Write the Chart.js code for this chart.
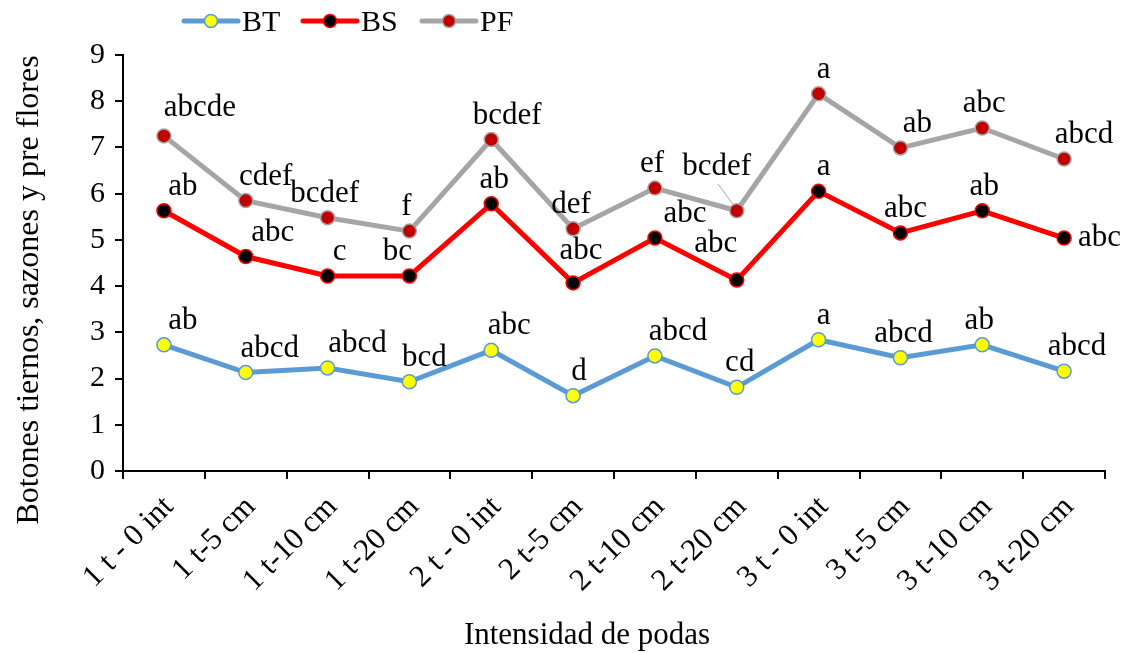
<!DOCTYPE html>
<html>
<head>
<meta charset="utf-8">
<script src="https://cdn.jsdelivr.net/npm/chart.js@4/dist/chart.umd.min.js"></script>
<style>
  html, body { margin: 0; padding: 0; background: #fff; }
  #wrap { width: 1126px; height: 653px; position: relative; }
</style>
</head>
<body>
<div id="wrap"><canvas id="podasChart" width="1126" height="653"></canvas></div>
<script>
// categories and values
const categories = ['1 t - 0 int', '1 t-5 cm', '1 t-10 cm', '1 t-20 cm', '2 t - 0 int', '2 t-5 cm',
    '2 t-10 cm', '2 t-20 cm', '3 t - 0 int', '3 t-5 cm', '3 t-10 cm', '3 t-20 cm'];
const btValues = [2.73, 2.13, 2.23, 1.93, 2.61, 1.63, 2.49, 1.81, 2.84, 2.45, 2.73, 2.16];
const bsValues = [5.63, 4.64, 4.22, 4.22, 5.78, 4.07, 5.04, 4.13, 6.05, 5.15, 5.63, 5.04];
const pfValues = [7.25, 5.85, 5.48, 5.19, 7.17, 5.24, 6.12, 5.63, 8.16, 6.99, 7.42, 6.75];
// significance letters
const btLetters = ['ab', 'abcd', 'abcd', 'bcd', 'abc', 'd', 'abcd', 'cd', 'a', 'abcd', 'ab', 'abcd'];
const bsLetters = ['ab', 'abc', 'c', 'bc', 'ab', 'abc', 'abc', 'abc', 'a', 'abc', 'ab', 'abc'];
const pfLetters = ['abcde', 'cdef', 'bcdef', 'f', 'bcdef', 'def', 'ef', 'bcdef', 'a', 'ab', 'abc', 'abcd'];
const yTicks = [0, 1, 2, 3, 4, 5, 6, 7, 8, 9];

const serif = '"Liberation Serif", "Times New Roman", serif';

// label nudges (px) so the letters sit where they were placed in the original
const labelNudge = [
    { dx: [19, 24, 30, 15, 18, 6, 23, 3, 5, 3, -3, 13], dy: {} },
    { dx: [19, 27, 12, -12, 3, 8, 30, -21, 5, 5, 2, 0], dy: { 5: -8, 7: -12 } },
    { dx: [36, 20, -3, -3, 16, -2, -3, -20, 5, 17, 2, 20], dy: { 0: -4, 7: -20 } }
];

const letterPlugin = {
    id: 'letters',
    afterDatasetsDraw(chart) {
        const ctx = chart.ctx;
        const sets = [btLetters, bsLetters, pfLetters];
        ctx.save();
        ctx.font = '31px ' + serif;
        ctx.fillStyle = '#000';
        ctx.textBaseline = 'alphabetic';
        sets.forEach((letters, di) => {
            const meta = chart.getDatasetMeta(di);
            meta.data.forEach((pt, i) => {
                let x = pt.x + labelNudge[di].dx[i];
                let y = pt.y - 16 + (labelNudge[di].dy[i] || 0);
                ctx.textAlign = 'center';
                if (di === 1 && i === letters.length - 1) {
                    // last BS label sits to the right of its point
                    ctx.textAlign = 'left';
                    x = pt.x + 14;
                    y = pt.y + 8;
                }
                ctx.fillText(letters[i], x, y);
                if (di === 2 && i === 7) {
                    // leader line
                    ctx.strokeStyle = '#a5a5a5';
                    ctx.lineWidth = 1;
                    ctx.beginPath();
                    ctx.moveTo(pt.x - 19, pt.y - 27);
                    ctx.lineTo(pt.x - 4, pt.y - 7);
                    ctx.stroke();
                }
            });
        });
        ctx.restore();
    }
};

const legendPlugin = {
    id: 'lineLegend',
    afterDraw(chart) {
        const ctx = chart.ctx;
        const items = chart.data.datasets;
        const starts = [184, 303, 422];
        ctx.save();
        ctx.font = '30px ' + serif;
        ctx.textAlign = 'left';
        ctx.textBaseline = 'middle';
        items.forEach((ds, i) => {
            const x0 = starts[i];
            const y = 21;
            ctx.strokeStyle = ds.borderColor;
            ctx.lineWidth = 5;
            ctx.lineCap = 'round';
            ctx.beginPath();
            ctx.moveTo(x0, y);
            ctx.lineTo(x0 + 54, y);
            ctx.stroke();
            ctx.beginPath();
            ctx.arc(x0 + 27, y, 6.5, 0, Math.PI * 2);
            ctx.fillStyle = ds.pointBackgroundColor;
            ctx.fill();
            ctx.lineWidth = 1.5;
            ctx.strokeStyle = ds.pointBorderColor;
            ctx.stroke();
            ctx.fillStyle = '#000';
            ctx.fillText(ds.label, x0 + 58, y + 2);
        });
        ctx.restore();
    }
};

const titlePlugin = {
    id: 'axisTitles',
    afterDraw(chart) {
        const ctx = chart.ctx;
        ctx.save();
        ctx.font = '31px ' + serif;
        ctx.fillStyle = '#000';
        ctx.textAlign = 'center';
        ctx.textBaseline = 'middle';
        ctx.fillText('Intensidad de podas', 587, 636);
        ctx.font = '32px ' + serif;
        ctx.translate(30, 290);
        ctx.rotate(-Math.PI / 2);
        ctx.fillText('Botones tiernos, sazones y pre flores', 0, 0);
        ctx.restore();
    }
};

const ctx = document.getElementById('podasChart').getContext('2d');
const podasChart = new Chart(ctx, {
    type: 'line',
    data: {
        labels: categories,
        datasets: [{
            label: 'BT',
            data: btValues,
            borderColor: '#5b9bd5',
            borderWidth: 5,
            pointBackgroundColor: '#ffff00',
            pointBorderColor: '#5b9bd5',
            pointBorderWidth: 1.5,
            pointRadius: 7,
            tension: 0
        }, {
            label: 'BS',
            data: bsValues,
            borderColor: '#ff0000',
            borderWidth: 5,
            pointBackgroundColor: '#000000',
            pointBorderColor: '#ff0000',
            pointBorderWidth: 1.5,
            pointRadius: 7,
            tension: 0
        }, {
            label: 'PF',
            data: pfValues,
            borderColor: '#a5a5a5',
            borderWidth: 5,
            pointBackgroundColor: '#c00000',
            pointBorderColor: '#a5a5a5',
            pointBorderWidth: 1.5,
            pointRadius: 7,
            tension: 0
        }]
    },
    options: {
        responsive: false,
        animation: false,
        devicePixelRatio: 1,
        layout: { padding: { top: 55, right: 21, bottom: 0, left: 0 } },
        plugins: {
            legend: { display: false },
            tooltip: { enabled: false }
        },
        scales: {
            x: {
                offset: true,
                border: { color: '#000', width: 2 },
                grid: { drawOnChartArea: false, color: '#000', lineWidth: 2, tickLength: 8, offset: true },
                ticks: {
                    color: '#000',
                    font: { family: serif, size: 31 },
                    maxRotation: 45,
                    minRotation: 45,
                    autoSkip: false,
                    padding: 10,
                    labelOffset: 5
                },
                afterFit: scale => { scale.height = 182; }
            },
            y: {
                min: 0,
                max: 9,
                border: { color: '#000', width: 2 },
                grid: { drawOnChartArea: false, color: '#000', lineWidth: 2, tickLength: 8 },
                afterBuildTicks: scale => { scale.ticks = yTicks.map(v => ({ value: v })); },
                ticks: {
                    color: '#000',
                    font: { family: serif, size: 30 },
                    padding: 10
                },
                afterFit: scale => { scale.width = 123; }
            }
        }
    },
    plugins: [letterPlugin, legendPlugin, titlePlugin]
});
</script>
</body>
</html>
